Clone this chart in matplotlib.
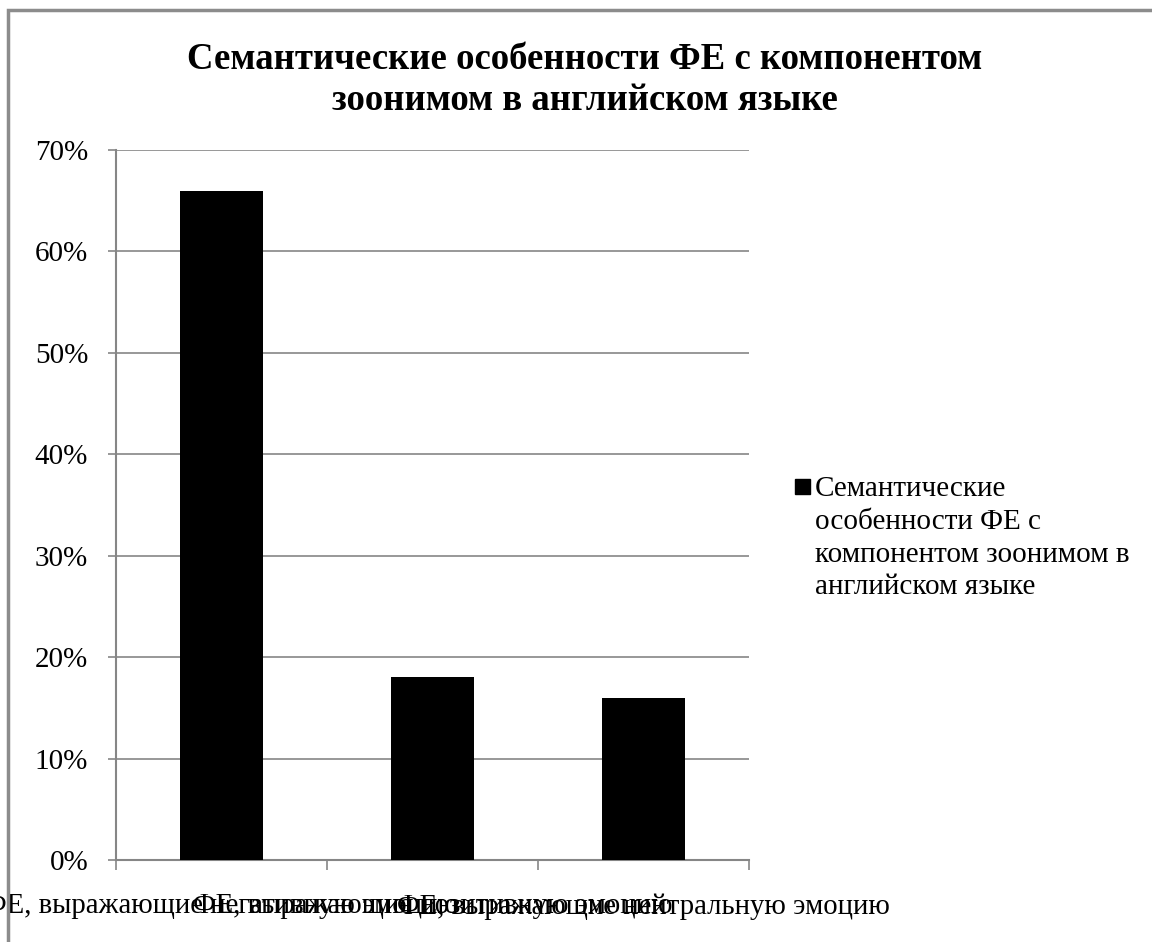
import matplotlib.pyplot as plt
from matplotlib.patches import Rectangle
from matplotlib.ticker import FuncFormatter, FixedLocator

plt.rcParams['font.family'] = ['Liberation Serif', 'DejaVu Serif']

title = 'Семантические особенности ФЕ с компонентом\nзоонимом в английском языке'
series_name = 'Семантические\nособенности ФЕ с\nкомпонентом зоонимом в\nанглийском языке'
categories = ['ФЕ, выражающие негативную эмоцию',
              'ФЕ, выражающие позитивную эмоцию',
              'ФЕ, выражающие нейтральную эмоцию']
values = [0.66, 0.18, 0.16]

W, H = 1152, 942
fig = plt.figure(figsize=(W / 100, H / 100), dpi=100)
ax = fig.add_axes([116 / W, 1 - 860 / H, (749 - 116) / W, (860 - 150) / H])

grey = '#868686'
x = range(len(categories))
ax.bar(x, values, width=0.395, color='black', zorder=3)

ax.set_xlim(-0.5, len(categories) - 0.5)
ax.set_ylim(0, 0.7)
ax.set_yticks([i / 10 for i in range(8)])
ax.yaxis.set_major_formatter(FuncFormatter(lambda v, p: f'{round(v * 100)}%'))
ax.grid(axis='y', color=grey, linewidth=1.2, zorder=0)

ax.set_xticks(list(x))
ax.set_xticklabels(categories, fontsize=20.7)
ax.tick_params(axis='x', which='major', length=0, pad=24)
ax.xaxis.set_minor_locator(FixedLocator([i - 0.5 for i in range(len(categories) + 1)]))
ax.tick_params(axis='x', which='minor', length=7, width=1.2, color=grey)
ax.tick_params(axis='y', length=6, width=1.2, color=grey, labelsize=21, pad=14)

for side in ('top', 'right'):
    ax.spines[side].set_visible(False)
for side in ('left', 'bottom'):
    ax.spines[side].set_color(grey)
    ax.spines[side].set_linewidth(1.5)

fig.text(585 / W, 1 - 80 / H, title, ha='center', va='center',
         fontsize=26.5, fontweight='bold', linespacing=1.24)

# legend drawn by hand so the marker sits on the first line
fig.patches.append(Rectangle((795 / W, 1 - 494 / H), 15 / W, 15 / H,
                             transform=fig.transFigure, color='black'))
fig.text(815 / W, 1 - 476 / H, series_name, ha='left', va='top',
         fontsize=21, linespacing=1.34)

# chart area border
fig.patches.append(Rectangle((8 / W, -0.1), 1.2, 1 - 10 / H + 0.1,
                             transform=fig.transFigure, fill=False,
                             edgecolor='#8c8c8c', linewidth=2.5, zorder=10))

fig.savefig('out.png', dpi=100)
